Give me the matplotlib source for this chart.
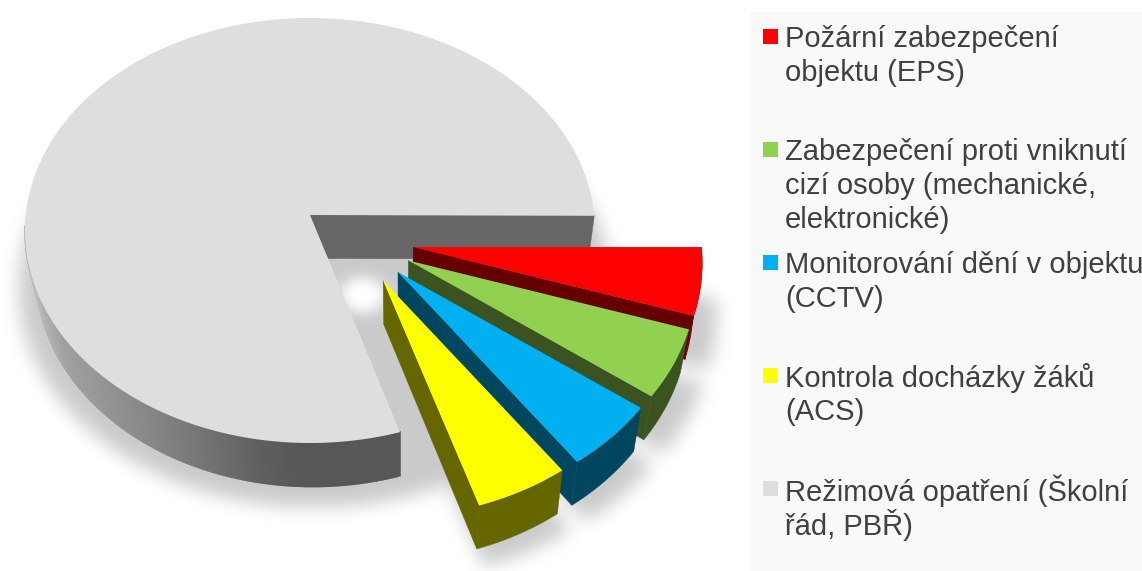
"""Exploded 3D-look pie with a Czech legend, drawn by hand on a pixel-sized axes."""

import numpy as np
import matplotlib
matplotlib.use("Agg")
import matplotlib.pyplot as plt  # noqa: E402
from matplotlib.path import Path  # noqa: E402
from matplotlib.patches import Rectangle  # noqa: E402

W, H = 1142, 571

labels = [
    "Požární zabezpečení\nobjektu (EPS)",
    "Zabezpečení proti vniknutí\ncizí osoby (mechanické,\nelektronické)",
    "Monitorování dění v objektu\n(CCTV)",
    "Kontrola docházky žáků\n(ACS)",
    "Režimová opatření (Školní\nřád, PBŘ)",
]
values = [5.25, 5.25, 5.25, 5.25, 79.0]
explode = [0.2, 0.2, 0.2, 0.2, 0.0]
top_colors = ["#ff0000", "#92d050", "#00b0f0", "#ffff00", "#dedede"]
side_colors = ["#660000", "#3a5320", "#00465f", "#666600", "#666666"]

# pie geometry, in pixels
APEX = np.array([310.0, 215.0])
GROUP_SHIFT = np.array([46.5, 28.0])
RX_GREY, RX_SLICE = 285.0, 289.0
RY_GREY, RY_SLICE = 212.5, 222.0
CENTRE_DROP = 15.5
DEPTH = 43.5
START = -4.0
SLICE_TURN = -1.0
legend_y = [36, 149, 262, 375, 488]
LINE_H = 34.0


def lower(pts):
    """Bottom edge of the extrusion: moved down, drawn in slightly by perspective."""
    pts = np.atleast_2d(pts).astype(float)
    return np.column_stack([pts[:, 0] - 0.03 * (pts[:, 0] - 400), pts[:, 1] + DEPTH])


def arc(tip, t0, t1, rx, ry, n=80):
    t = np.radians(np.linspace(t0, t1, n))
    return np.column_stack([tip[0] + rx * np.cos(t), tip[1] + CENTRE_DROP + ry * np.sin(t)])


def quad_wall(ax, edge, color, z, lw=0.3):
    ax.fill(*np.vstack([edge, lower(edge)[::-1]]).T, color=color, lw=lw, zorder=z)


def blur(a, sigma):
    r = int(3 * sigma)
    k = np.exp(-0.5 * (np.arange(-r, r + 1) / sigma) ** 2)
    k /= k.sum()
    a = np.apply_along_axis(lambda v: np.convolve(v, k, mode="same"), 0, a)
    return np.apply_along_axis(lambda v: np.convolve(v, k, mode="same"), 1, a)


def draw_shadow(ax, slices):
    """Soft floor shadow: footprint of the pie moved down and blurred, with the pale gap."""
    xx, yy = np.meshgrid(np.arange(W) + 0.5, np.arange(H) + 0.5)
    grid = np.column_stack([xx.ravel(), yy.ravel()])
    mask = ((xx - 315) / (RX_GREY * 1.04)) ** 2 + ((yy - 230.5 - 58) / (RY_GREY * 1.03)) ** 2 < 1
    mask = mask.astype(float)
    for tip, a in slices:
        poly = np.vstack([tip, a])
        poly = tip + (poly - tip) * 1.05 + [0, 50]
        mask = np.maximum(mask, Path(poly).contains_points(grid).reshape(H, W).astype(float))
    alpha = blur(mask, 9) * 0.21
    alpha *= 1 - np.exp(-(((xx - 363) / 24) ** 2 + ((yy - 295) / 19) ** 2) ** 1.5)
    rgba = np.zeros((H, W, 4))
    rgba[..., 3] = alpha
    ax.imshow(rgba, extent=(0, W, H, 0), aspect="auto", zorder=1, interpolation="bilinear")


def main():
    fig = plt.figure(figsize=(W / 100, H / 100), dpi=100)
    ax = fig.add_axes([0, 0, 1, 1])
    plt.rcParams["font.family"] = ["Liberation Sans", "DejaVu Sans"]

    # angle edges of every slice, clockwise on screen from START
    sweep = 360 * np.array(values) / sum(values)
    edges = START + np.concatenate([[0], np.cumsum(sweep)])

    slices = []
    for i in range(4):
        mid = np.radians((edges[i] + edges[i + 1]) / 2)
        off = explode[i] * np.array([RX_GREY * np.cos(mid), RY_GREY * np.sin(mid)])
        tip = APEX + GROUP_SHIFT + off
        t0 = max(edges[i] + SLICE_TURN, START)  # red keeps its flat top edge
        slices.append((tip, arc(tip, t0, edges[i + 1] + SLICE_TURN, RX_SLICE, RY_SLICE)))

    draw_shadow(ax, slices)

    # grey slice: back wall, gradient outer wall, then the top
    grey_arc = arc(APEX, edges[4], edges[5], RX_GREY, RY_GREY, n=400)
    back = np.vstack([APEX, grey_arc[-1]])
    quad_wall(ax, back, side_colors[4], 2)
    front = grey_arc[(grey_arc[:, 1] > 225) & (grey_arc[:, 0] < 400.5)]
    for p, q in zip(front[:-1], front[1:]):
        shade = np.interp((p[0] + q[0]) / 2, [25, 60, 120, 190, 260, 300], [0.74, 0.63, 0.56, 0.47, 0.37, 0.34])
        quad_wall(ax, np.vstack([p, q]), (shade, shade, shade), 3, lw=1.2)
    ax.fill(*np.vstack([APEX, grey_arc]).T, color=top_colors[4], lw=0, zorder=4)

    # exploded slices, back to front so each one covers the wall of the one before
    for i, (tip, a) in enumerate(slices):
        z = 5 + i
        quad_wall(ax, a, side_colors[i], z)
        quad_wall(ax, np.vstack([tip, a[-1]]), side_colors[i], z)
        ax.fill(*np.vstack([tip, a]).T, color=top_colors[i], lw=0, zorder=z + 0.5)

    # legend panel
    ax.add_patch(Rectangle((750, 12), W - 750, H - 12, color="#f9f9f9", lw=0, zorder=0))
    for i, lab in enumerate(labels):
        y = legend_y[i]
        ax.add_patch(Rectangle((763, y - 7), 15, 15, color=top_colors[i], lw=0, zorder=5))
        for j, line in enumerate(lab.split("\n")):
            ax.text(785, y + j * LINE_H, line, fontsize=21, color="#404040", va="center_baseline",
                    ha="left", zorder=6, clip_on=True)

    ax.set_xlim(0, W)
    ax.set_ylim(H, 0)
    ax.axis("off")
    fig.savefig("out.png", dpi=100, facecolor="white")
    plt.close(fig)
    return 0


if __name__ == "__main__":
    raise SystemExit(main())
